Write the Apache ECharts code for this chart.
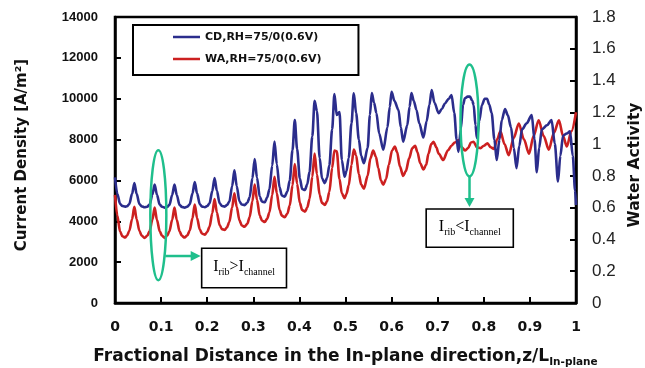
<!DOCTYPE html>
<html>
<head>
<meta charset="utf-8">
<script src="https://cdn.jsdelivr.net/npm/echarts@6/dist/echarts.min.js"></script>
<style>
  html, body { margin: 0; padding: 0; background: #fff; }
  #chart { width: 645px; height: 368px; }
</style>
</head>
<body>
<div id="chart"></div>
<script>
// Legend entries for the two measured profiles
const seriesNames = ['CD,RH=75/0(0.6V)', 'WA,RH=75/0(0.6V)'];

// Current density [A/m2] against fractional in-plane distance z/L
const cdData = [
  [0.000,6150],[0.005,5350],[0.011,4850],[0.016,4750],[0.022,4720],
  [0.026,4735],[0.031,4840],[0.037,5340],[0.042,5870],[0.047,5340],[0.053,4840],[0.058,4730],[0.064,4690],
  [0.070,4715],[0.075,4815],[0.081,5295],[0.086,5800],[0.091,5295],[0.097,4815],[0.102,4715],[0.108,4670],
  [0.113,4705],[0.118,4805],[0.124,5290],[0.129,5800],[0.134,5290],[0.140,4805],[0.145,4705],[0.151,4670],
  [0.157,4717],[0.162,4830],[0.168,5360],[0.173,5920],[0.178,5365],[0.184,4835],[0.189,4720],[0.195,4690],
  [0.200,4745],[0.205,4870],[0.211,5480],[0.216,6120],[0.221,5490],[0.227,4880],[0.232,4750],[0.238,4720],
  [0.243,4795],[0.248,4950],[0.254,5710],[0.259,6500],[0.264,5730],[0.270,4970],[0.275,4820],[0.281,4790],
  [0.287,4910],[0.292,5170],[0.298,6100],[0.303,7050],[0.308,6140],[0.314,5200],[0.319,4960],[0.325,4930],
  [0.330,5160],[0.335,5560],[0.341,6730],[0.346,7900],[0.351,6790],[0.357,5660],[0.362,5260],[0.368,5200],
  [0.374,5470],[0.379,5990],[0.385,7480],[0.390,8960],[0.395,7540],[0.401,6090],[0.406,5580],[0.412,5530],
  [0.417,5810],[0.422,6420],[0.428,8160],[0.433,9900],[0.438,9400],[0.444,7100],[0.449,6100],[0.455,5870],
  [0.460,6130],[0.465,6740],[0.471,8500],[0.476,10230],[0.481,9200],[0.487,9350],[0.492,7000],[0.498,6180],
  [0.502,6450],[0.507,7100],[0.513,8800],[0.518,10270],[0.523,9300],[0.529,8000],[0.534,7200],[0.540,6840],
  [0.548,7600],[0.553,9200],[0.557,10280],[0.562,9800],[0.567,9300],[0.573,8300],[0.582,7500],
  [0.591,8600],[0.596,9600],[0.600,10340],[0.606,9900],[0.615,9450],[0.620,8600],[0.625,7900],
  [0.634,8700],[0.639,9600],[0.643,10280],[0.648,9900],[0.654,9450],[0.660,8800],[0.669,8100],
  [0.676,8900],[0.682,9700],[0.687,10430],[0.693,9800],[0.702,9290],[0.709,9500],[0.716,9780],
  [0.724,10000],[0.730,10180],[0.736,9300],[0.741,8000],[0.745,7400],
  [0.750,8500],[0.755,9700],[0.759,10020],[0.765,10100],[0.770,10100],[0.775,9900],[0.778,9690],
  [0.782,8700],[0.785,8080],
  [0.790,8900],[0.796,9690],[0.802,10000],[0.807,10000],[0.812,9700],[0.817,9300],[0.823,8000],[0.828,7000],
  [0.834,8000],[0.839,8960],[0.846,9500],[0.852,9200],[0.859,8600],[0.865,7600],[0.871,6600],
  [0.877,7700],[0.883,8500],[0.893,8800],[0.904,9200],[0.910,8000],[0.915,6400],
  [0.920,7600],[0.926,8500],[0.937,8700],[0.947,8950],[0.954,7800],[0.961,5950],
  [0.966,7200],[0.972,8200],[0.980,8300],[0.987,8400],[0.993,7200],[0.998,5500],[1.000,4800]
];

// Water activity against fractional in-plane distance z/L (right axis)
const waData = [
  [0.000,0.68],[0.005,0.55],[0.011,0.45],[0.016,0.42],[0.022,0.412],
  [0.026,0.424],[0.031,0.453],[0.037,0.527],[0.042,0.605],[0.047,0.527],[0.053,0.453],[0.058,0.424],[0.064,0.41],
  [0.070,0.423],[0.075,0.452],[0.081,0.524],[0.086,0.60],[0.091,0.524],[0.097,0.452],[0.102,0.423],[0.108,0.41],
  [0.113,0.423],[0.118,0.452],[0.124,0.524],[0.129,0.60],[0.134,0.524],[0.140,0.452],[0.145,0.423],[0.151,0.412],
  [0.157,0.426],[0.162,0.455],[0.168,0.533],[0.173,0.62],[0.178,0.535],[0.184,0.462],[0.189,0.436],[0.195,0.43],
  [0.200,0.446],[0.205,0.48],[0.211,0.565],[0.216,0.655],[0.221,0.57],[0.227,0.49],[0.232,0.465],[0.238,0.46],
  [0.243,0.476],[0.248,0.51],[0.254,0.60],[0.259,0.69],[0.264,0.605],[0.270,0.52],[0.275,0.488],[0.281,0.48],
  [0.287,0.498],[0.292,0.54],[0.298,0.64],[0.303,0.745],[0.308,0.65],[0.314,0.55],[0.319,0.518],[0.325,0.51],
  [0.330,0.53],[0.335,0.57],[0.341,0.68],[0.346,0.795],[0.351,0.69],[0.357,0.585],[0.362,0.55],[0.368,0.54],
  [0.374,0.563],[0.379,0.613],[0.385,0.74],[0.390,0.875],[0.395,0.75],[0.401,0.63],[0.406,0.585],[0.412,0.575],
  [0.417,0.60],[0.422,0.655],[0.428,0.795],[0.433,0.94],[0.438,0.81],[0.444,0.68],[0.449,0.63],[0.455,0.617],
  [0.460,0.64],[0.465,0.70],[0.471,0.85],[0.476,0.96],[0.481,0.955],[0.487,0.78],[0.492,0.69],[0.498,0.66],
  [0.502,0.685],[0.507,0.74],[0.513,0.87],[0.518,0.965],[0.523,0.93],[0.529,0.81],[0.534,0.745],[0.540,0.72],
  [0.548,0.80],[0.554,0.91],[0.560,0.96],[0.566,0.92],[0.571,0.85],[0.577,0.77],[0.582,0.745],
  [0.588,0.78],[0.594,0.87],[0.601,0.96],[0.607,0.985],[0.612,0.95],[0.618,0.86],[0.625,0.80],
  [0.631,0.83],[0.638,0.91],[0.645,0.975],[0.651,0.99],[0.656,0.95],[0.662,0.88],[0.669,0.84],
  [0.675,0.87],[0.680,0.94],[0.686,1.0],[0.691,1.015],[0.697,0.98],[0.702,0.94],[0.712,0.90],
  [0.722,0.96],[0.730,0.99],[0.737,1.01],[0.745,1.025],[0.752,0.98],[0.759,0.96],
  [0.766,0.975],[0.772,1.01],[0.778,1.015],[0.785,0.98],[0.793,0.975],[0.800,0.99],
  [0.808,1.005],[0.815,0.98],[0.822,0.97],[0.829,1.03],[0.836,1.08],[0.845,1.00],
  [0.854,0.93],[0.865,1.04],[0.876,1.13],[0.887,1.03],[0.898,0.94],[0.908,1.05],
  [0.919,1.15],[0.930,1.05],[0.941,0.965],[0.952,1.07],[0.963,1.15],[0.972,1.05],
  [0.980,0.985],[0.990,1.08],[1.000,1.20]
];

// Axis ranges [min, max, step] and annotation texts
const xRange = [0, 1, 0.1];
const cdRange = [0, 14000, 2000];
const waRange = [0, 1.8, 0.2];
const noteRibHigh = ['I', 'rib', '>I', 'channel'];
const noteRibLow = ['I', 'rib', '<I', 'channel'];

const SANS = 'Liberation Sans, Arial, sans-serif';
const WIDE = 'DejaVu Sans, Verdana, sans-serif';
const SERIF = 'Liberation Serif, Times New Roman, serif';
const BLUE = '#2b2d8c';
const RED = '#cc2020';
const GREEN = '#1fbf8c';

const chart = echarts.init(document.getElementById('chart'), null, { renderer: 'canvas' });

const axisLineStyle = { color: '#000', width: 2.5 };
const tickStyle = { inside: true, length: 6, lineStyle: { color: '#000', width: 2 } };

const option = {
  animation: false,
  backgroundColor: '#fff',
  grid: {
    left: 115, right: 69, top: 17, bottom: 65,
    outerBoundsMode: 'none',
    containLabel: false,
    show: true, borderColor: '#000', borderWidth: 2.5, backgroundColor: 'transparent'
  },
  legend: {
    orient: 'vertical',
    left: 133, top: 25,
    data: seriesNames,
    icon: 'rect',
    itemWidth: 27, itemHeight: 2.5,
    itemGap: 8,
    padding: [5, 37, 9, 40],
    borderColor: '#000', borderWidth: 2,
    backgroundColor: '#fff',
    textStyle: { fontFamily: WIDE, fontWeight: 'bold', fontSize: 11, color: '#111', lineHeight: 14 }
  },
  xAxis: {
    type: 'value',
    min: xRange[0], max: xRange[1], interval: xRange[2],
    name: '{m|Fractional Distance in the In-plane direction,z/L}{s|In-plane}',
    nameLocation: 'middle',
    nameGap: 43,
    nameTextStyle: {
      rich: {
        m: { fontFamily: WIDE, fontWeight: 'bold', fontSize: 17, color: '#111', lineHeight: 22 },
        s: { fontFamily: WIDE, fontWeight: 'bold', fontSize: 10.5, color: '#111', lineHeight: 10, verticalAlign: 'bottom' }
      }
    },
    axisLine: { lineStyle: axisLineStyle },
    axisTick: tickStyle,
    axisLabel: { margin: 17, fontFamily: WIDE, fontWeight: 'bold', fontSize: 14, color: '#111' },
    splitLine: { show: false }
  },
  yAxis: [
    {
      type: 'value',
      min: cdRange[0], max: cdRange[1], interval: cdRange[2],
      name: 'Current Density [A/m²]',
      nameLocation: 'middle',
      nameGap: 85,
      nameRotate: 90,
      nameTextStyle: { fontFamily: WIDE, fontWeight: 'bold', fontSize: 15, color: '#111', padding: [0, 0, 0, 10] },
      axisLine: { show: true, lineStyle: axisLineStyle },
      axisTick: { show: true, ...tickStyle },
      axisLabel: {
        margin: 17, fontFamily: SANS, fontWeight: 'bold', fontSize: 13, color: '#111',
        formatter: (v) => String(v)
      },
      splitLine: { show: false }
    },
    {
      type: 'value',
      position: 'right',
      min: waRange[0], max: waRange[1], interval: waRange[2],
      name: 'Water Activity',
      nameLocation: 'middle',
      nameGap: 50,
      nameRotate: 90,
      nameTextStyle: { fontFamily: WIDE, fontWeight: 'bold', fontSize: 15.5, color: '#111', padding: [0, 10, 0, 0] },
      axisLine: { show: true, lineStyle: axisLineStyle },
      axisTick: { show: true, ...tickStyle },
      axisLabel: { margin: 16, fontFamily: SANS, fontSize: 17, color: '#222' },
      splitLine: { show: false }
    }
  ],
  series: [
    {
      name: seriesNames[0],
      type: 'line',
      yAxisIndex: 0,
      data: cdData,
      symbol: 'none',
      smooth: 0.3,
      smoothMonotone: 'x',
      lineStyle: { color: BLUE, width: 2.6 },
      itemStyle: { color: BLUE },
      z: 3
    },
    {
      name: seriesNames[1],
      type: 'line',
      yAxisIndex: 1,
      data: waData,
      symbol: 'none',
      smooth: 0.3,
      smoothMonotone: 'x',
      lineStyle: { color: RED, width: 2.6 },
      itemStyle: { color: RED },
      z: 2
    }
  ]
};

chart.setOption(option);

// Annotations anchored to data coordinates on the left axis
function toPx(x, y) {
  return chart.convertToPixel({ xAxisIndex: 0, yAxisIndex: 0 }, [x, y]);
}

function noteText(parts) {
  return '{a|' + parts[0] + '}{b|' + parts[1] + '}{a|' + parts[2] + '}{b|' + parts[3] + '}';
}

const richNote = {
  a: { fontFamily: SERIF, fontSize: 16, color: '#111', lineHeight: 20 },
  b: { fontFamily: SERIF, fontSize: 10, color: '#111', lineHeight: 10, verticalAlign: 'bottom' }
};

function arrowLine(x1, y1, x2, y2) {
  return {
    type: 'line', shape: { x1, y1, x2, y2 },
    style: { stroke: GREEN, lineWidth: 2.5 }, z: 10
  };
}

function buildAnnotations() {
  const els = [];

  // Left ellipse around a rib peak, arrow to the right, labelled box
  const e1 = toPx(0.094, 4300);
  els.push({
    type: 'ellipse', shape: { cx: e1[0], cy: e1[1], rx: 8, ry: 65 },
    style: { fill: 'none', stroke: GREEN, lineWidth: 2.5 }, z: 10
  });
  const a1 = toPx(0.108, 2300);
  const b1a = toPx(0.188, 2680);
  const b1b = toPx(0.372, 750);
  els.push(arrowLine(e1[0] + 7, a1[1], b1a[0] - 8, a1[1]));
  els.push({
    type: 'polygon',
    shape: { points: [[b1a[0] - 1, a1[1]], [b1a[0] - 11, a1[1] - 5], [b1a[0] - 11, a1[1] + 5]] },
    style: { fill: GREEN }, z: 10
  });
  els.push({
    type: 'rect', shape: { x: b1a[0], y: b1a[1], width: b1b[0] - b1a[0], height: b1b[1] - b1a[1] },
    style: { fill: '#fff', stroke: '#000', lineWidth: 1.6 }, z: 10
  });
  els.push({
    type: 'text', x: (b1a[0] + b1b[0]) / 2, y: (b1a[1] + b1b[1]) / 2 - 1, z: 11,
    style: { text: noteText(noteRibHigh), rich: richNote, align: 'center', verticalAlign: 'middle' }
  });

  // Right ellipse around a channel peak, arrow down, labelled box
  const e2 = toPx(0.769, 8930);
  els.push({
    type: 'ellipse', shape: { cx: e2[0], cy: e2[1], rx: 9, ry: 56 },
    style: { fill: 'none', stroke: GREEN, lineWidth: 2.5 }, z: 10
  });
  const b2a = toPx(0.675, 4600);
  const b2b = toPx(0.864, 2730);
  els.push(arrowLine(e2[0], e2[1] + 56, e2[0], b2a[1] - 8));
  els.push({
    type: 'polygon',
    shape: { points: [[e2[0], b2a[1] - 2], [e2[0] - 5, b2a[1] - 11], [e2[0] + 5, b2a[1] - 11]] },
    style: { fill: GREEN }, z: 10
  });
  els.push({
    type: 'rect', shape: { x: b2a[0], y: b2a[1], width: b2b[0] - b2a[0], height: b2b[1] - b2a[1] },
    style: { fill: '#fff', stroke: '#000', lineWidth: 1.6 }, z: 10
  });
  els.push({
    type: 'text', x: (b2a[0] + b2b[0]) / 2, y: (b2a[1] + b2b[1]) / 2 - 1, z: 11,
    style: { text: noteText(noteRibLow), rich: richNote, align: 'center', verticalAlign: 'middle' }
  });

  chart.setOption({ graphic: { elements: els } });
}

buildAnnotations();
</script>
</body>
</html>
